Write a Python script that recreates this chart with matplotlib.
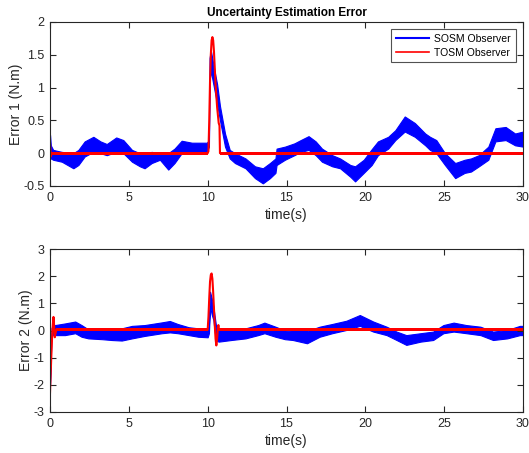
import matplotlib
matplotlib.use("Agg")
import matplotlib.pyplot as plt
from matplotlib.lines import Line2D

plt.rcParams['font.family'] = ['Liberation Sans', 'DejaVu Sans']

# ---- Error 1 : SOSM observer envelope (chattering band) ----
t1_sosm = [0.0, 0.05, 0.2, 0.75, 1.48, 1.8, 2.2, 2.75, 3.2, 3.6, 4.2, 4.65, 5.2, 5.7,
           6.0, 6.45, 6.97, 7.5, 7.9, 8.35, 9.0, 9.95, 10.08, 10.12, 10.2, 10.4, 10.6,
           10.78, 11.1, 11.4, 11.73, 12.4, 13.0, 13.5, 13.95, 14.3, 14.37, 14.9, 15.5,
           15.9, 16.4, 16.85, 17.25, 17.9, 18.4, 19.05, 19.35, 19.9, 20.4, 20.8, 21.45,
           21.9, 22.5, 23.14, 23.8, 24.1, 24.5, 25.05, 25.7, 26.3, 26.7, 27.2, 27.8,
           28.25, 28.9, 29.5, 30.0]
e1_sosm_lo = [-0.05, -0.08, -0.1, -0.13, -0.23, -0.18, -0.05, 0.02, 0.0, -0.03, 0.02,
              0.0, -0.13, -0.2, -0.23, -0.15, -0.1, -0.25, -0.15, 0.0, 0.02, 0.02, 0.1,
              1.1, 1.25, 1.0, 0.75, 0.5, 0.1, -0.08, -0.15, -0.23, -0.38, -0.46, -0.38,
              -0.3, -0.18, -0.1, -0.03, 0.02, 0.05, -0.03, -0.13, -0.2, -0.23, -0.36,
              -0.43, -0.3, -0.18, -0.03, 0.07, 0.2, 0.33, 0.25, 0.12, 0.05, 0.0, -0.18,
              -0.38, -0.3, -0.28, -0.2, -0.1, 0.18, 0.2, 0.12, 0.1]
e1_sosm_hi = [0.28, 0.12, 0.05, 0.02, 0.0, 0.05, 0.18, 0.25, 0.18, 0.14, 0.24, 0.2,
              0.05, 0.0, 0.0, 0.02, 0.0, 0.0, 0.07, 0.19, 0.16, 0.16, 0.2, 1.45, 1.57,
              1.3, 1.05, 0.72, 0.3, 0.05, 0.0, -0.08, -0.2, -0.23, -0.15, -0.08, 0.07,
              0.1, 0.15, 0.2, 0.26, 0.18, 0.07, -0.03, -0.08, -0.18, -0.2, -0.1, 0.06,
              0.18, 0.25, 0.35, 0.56, 0.46, 0.3, 0.25, 0.2, 0.0, -0.15, -0.1, -0.08,
              -0.03, 0.1, 0.38, 0.4, 0.3, 0.33]

# ---- Error 1 : TOSM observer ----
t1_tosm = [0.0, 0.05, 0.1, 10.0, 10.05, 10.1, 10.15, 10.2, 10.25, 10.3, 10.35, 10.4,
           10.5, 10.6, 10.7, 10.75, 10.78, 30.0]
e1_tosm = [0.15, -0.05, 0.0, 0.0, 0.03, 0.5, 1.1, 1.5, 1.72, 1.77, 1.72, 1.55,
           1.05, 0.7, 0.46, 0.42, 0.0, 0.0]
# chattering band of the TOSM estimate around its steady value
t1_tosm_band = [[0.1, 10.0], [10.8, 30.0]]
e1_tosm_band = [-0.025, 0.025]

# ---- Error 2 : SOSM observer envelope ----
t2_sosm = [0.0, 0.05, 0.1, 0.32, 0.95, 1.6, 2.0, 2.43, 3.3, 3.9, 4.55, 5.2, 6.0, 7.1,
           7.6, 8.1, 8.8, 9.4, 10.0, 10.08, 10.15, 10.25, 10.36, 10.46, 10.56, 10.7,
           11.5, 12.4, 13.2, 13.6, 14.3, 14.9, 15.4, 16.3, 17.1, 17.9, 18.8, 19.65,
           20.5, 21.35, 21.98, 22.6, 23.5, 24.3, 24.95, 25.6, 26.4, 27.3, 28.1, 29.0,
           29.8, 30.0]
e2_sosm_lo = [-2.0, -1.0, -0.15, -0.17, -0.17, -0.1, -0.23, -0.29, -0.32, -0.35, -0.37,
              -0.29, -0.2, -0.1, -0.07, -0.1, -0.17, -0.23, -0.25, -0.1, 0.9, 0.6, 0.39,
              -0.1, -0.38, -0.41, -0.35, -0.29, -0.17, -0.1, -0.23, -0.32, -0.35, -0.47,
              -0.23, -0.1, 0.02, 0.17, -0.04, -0.17, -0.35, -0.53, -0.41, -0.35, -0.1,
              -0.04, -0.1, -0.17, -0.35, -0.29, -0.17, -0.17]
e2_sosm_hi = [-1.9, -0.6, 0.1, 0.2, 0.26, 0.33, 0.2, 0.04, 0.05, 0.04, 0.08, 0.17, 0.2,
              0.3, 0.35, 0.24, 0.12, 0.08, 0.06, 0.2, 1.43, 1.2, 0.88, 0.46, 0.05, 0.02,
              0.02, 0.08, 0.2, 0.29, 0.14, 0.0, -0.02, -0.02, 0.14, 0.24, 0.36, 0.57,
              0.33, 0.14, -0.04, -0.17, -0.1, -0.04, 0.2, 0.29, 0.2, 0.14, -0.04, 0.02,
              0.17, 0.17]

# ---- Error 2 : TOSM observer ----
t2_tosm = [0.0, 0.08, 0.15, 0.22, 0.26, 0.3, 0.4, 10.0, 10.05, 10.1, 10.15, 10.2, 10.25,
           10.3, 10.35, 10.4, 10.45, 10.5, 10.55, 10.6, 10.65, 10.68, 10.72, 30.0]
e2_tosm = [-2.3, -1.0, 0.0, 0.5, 0.2, -0.25, 0.03, 0.03, 0.5, 1.2, 1.8, 2.05, 2.1,
           1.9, 1.4, 0.8, 0.2, -0.3, -0.55, -0.3, 0.1, 0.2, 0.02, 0.03]
t2_tosm_band = [[0.4, 10.0], [10.75, 30.0]]
e2_tosm_band = [-0.03, 0.08]

title = "Uncertainty Estimation Error"
xlab = "time(s)"
ylab1 = "Error 1 (N.m)"
ylab2 = "Error 2 (N.m)"
legend_labels = ["SOSM Observer", "TOSM Observer"]
xticks = [0, 5, 10, 15, 20, 25, 30]
yticks1 = [-0.5, 0, 0.5, 1, 1.5, 2]
yticks1_lbl = ["-0.5", "0", "0.5", "1", "1.5", "2"]
yticks2 = [-3, -2, -1, 0, 1, 2, 3]

W, H = 529, 453
fig = plt.figure(figsize=(W / 100, H / 100), dpi=100)
ax1 = fig.add_axes([50 / W, 1 - 186 / H, 473 / W, 164 / H])
ax2 = fig.add_axes([50 / W, 1 - 412 / H, 473 / W, 163 / H])

BLUE = (0, 0, 1)
RED = (1, 0, 0)
AXC = '#262626'

ax1.fill_between(t1_sosm, e1_sosm_lo, e1_sosm_hi, color=BLUE, lw=0.8, edgecolor=BLUE)
for span in t1_tosm_band:
    ax1.fill_between(span, [e1_tosm_band[0]] * 2, [e1_tosm_band[1]] * 2,
                     color=RED, lw=0)
ax1.plot(t1_tosm, e1_tosm, color=RED, lw=1.5)

ax2.fill_between(t2_sosm, e2_sosm_lo, e2_sosm_hi, color=BLUE, lw=0.8, edgecolor=BLUE)
for span in t2_tosm_band:
    ax2.fill_between(span, [e2_tosm_band[0]] * 2, [e2_tosm_band[1]] * 2,
                     color=RED, lw=0)
ax2.plot(t2_tosm, e2_tosm, color=RED, lw=1.5)

for ax, yt, ylim, ylab in [(ax1, yticks1, (-0.5, 2), ylab1), (ax2, yticks2, (-3, 3), ylab2)]:
    ax.set_xlim(0, 30)
    ax.set_ylim(*ylim)
    ax.set_xticks(xticks)
    ax.set_xticklabels([str(x) for x in xticks])
    ax.set_yticks(yt)
    ax.tick_params(direction='in', top=True, right=True, length=4, width=0.8,
                   colors=AXC, labelsize=9, pad=4)
    for s in ax.spines.values():
        s.set_color(AXC)
        s.set_linewidth(0.8)
    ax.set_xlabel(xlab, fontsize=10, color=AXC, labelpad=3)
    ax.set_ylabel(ylab, fontsize=10, color=AXC, labelpad=0)

ax1.set_yticklabels(yticks1_lbl)
ax2.set_yticklabels([str(v) for v in yticks2])
ax1.set_title(title, fontsize=8.5, fontweight='bold', color='black', pad=4)

handles = [Line2D([], [], color=BLUE, lw=1.5), Line2D([], [], color=RED, lw=1.2)]
leg = ax1.legend(handles, legend_labels, loc='upper right', fontsize=7.5, frameon=True,
                 fancybox=False, edgecolor=AXC, handlelength=3.2, borderaxespad=0.7,
                 labelspacing=0.35, handletextpad=0.5, borderpad=0.45)
leg.get_frame().set_linewidth(0.8)

fig.savefig("out.png", dpi=100)
